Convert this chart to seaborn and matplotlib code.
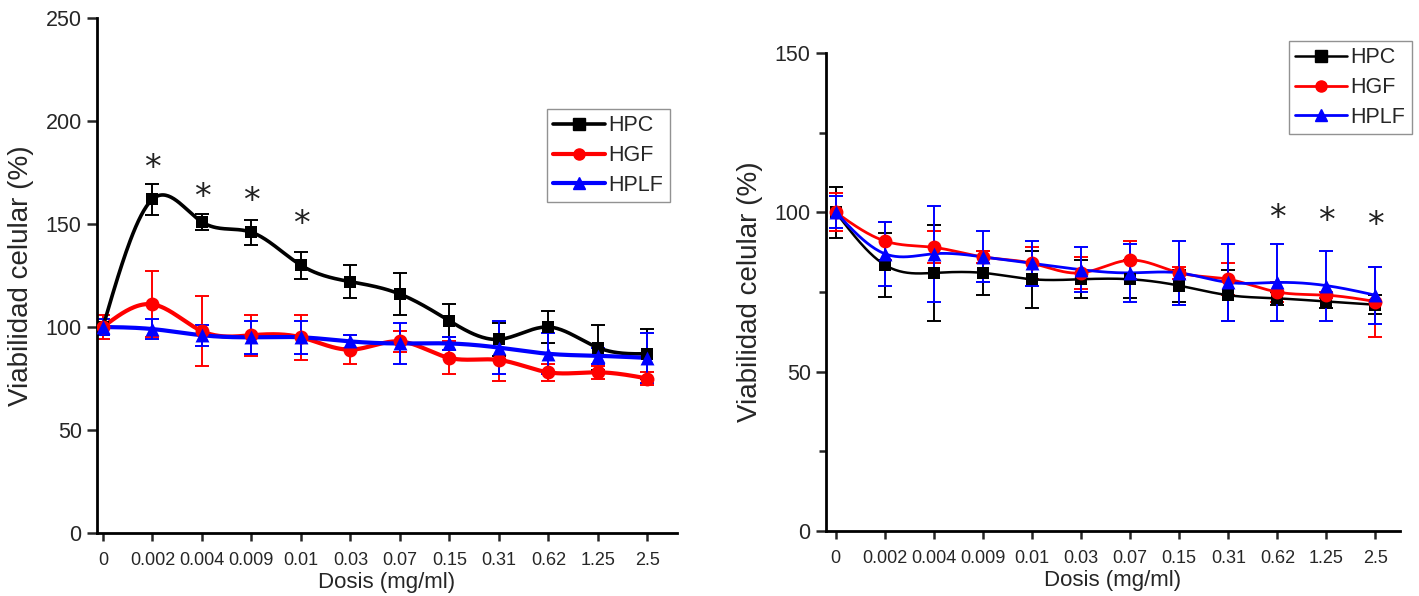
import numpy as np
import pandas as pd
import matplotlib
matplotlib.use("Agg")
import matplotlib.pyplot as plt
from matplotlib.lines import Line2D
from matplotlib.transforms import ScaledTranslation
import seaborn as sns

# ---------------- data ----------------
doses = ["0", "0.002", "0.004", "0.009", "0.01", "0.03", "0.07", "0.15", "0.31", "0.62", "1.25", "2.5"]
series_names = ["HPC", "HGF", "HPLF"]

# left panel
left_hpc = [100, 162, 151, 146, 130, 122, 116, 103, 94, 100, 90, 87]
left_hpc_err = [4, 7.5, 4, 6, 6.5, 8, 10, 8, 8, 8, 11, 12]
left_hgf = [100, 111, 98, 96, 95, 89, 93, 85, 84, 78, 78, 75]
left_hgf_err = [6, 16, 17, 10, 11, 7, 5, 8, 10, 4, 3, 3]
left_hplf = [100, 99, 96, 95, 95, 93, 92, 92, 90, 87, 86, 85]
left_hplf_err = [4, 5, 5, 8, 8, 3, 10, 3, 13, 10, 4, 12]
left_star_idx = [1, 2, 3, 4]
left_star_y = [177, 163, 161, 150]

# right panel
right_hpc = [100, 83.5, 81, 81, 79, 79, 79, 77, 74, 73, 72, 71]
right_hpc_err = [8, 10, 15, 7, 9, 6, 6, 5, 8, 2, 2, 3]
right_hgf = [100, 91, 89, 86, 84, 81, 85, 81, 79, 75, 74, 72]
right_hgf_err = [6, 6, 5, 2, 5, 5, 6, 2, 5, 3, 1, 11]
right_hplf = [100, 87, 87, 86, 84, 82, 81, 81, 78, 78, 77, 74]
right_hplf_err = [5, 10, 15, 8, 7, 7, 9, 10, 12, 12, 11, 9]
right_star_idx = [9, 10, 11]
right_star_y = [98, 97, 96]

colors = {"HPC": "#000000", "HGF": "#ff0000", "HPLF": "#0000ff"}
markers = {"HPC": "s", "HGF": "o", "HPLF": "^"}

# tick label vertical offsets (px)
left_lbl_dy = [-8, 2, -4, -4, -1, 3, 2, 5, -2, 1, 1, 0]
right_lbl_dy = [8, 0, 0, 2, 2, 0, 0, -3, 2, 3, -1, -1]


def natural_spline(x, y, n=400):
    x = np.asarray(x, float)
    y = np.asarray(y, float)
    k = len(x)
    h = np.diff(x)
    A = np.zeros((k, k))
    b = np.zeros(k)
    A[0, 0] = A[-1, -1] = 1
    for i in range(1, k - 1):
        A[i, i - 1] = h[i - 1]
        A[i, i] = 2 * (h[i - 1] + h[i])
        A[i, i + 1] = h[i]
        b[i] = 3 * ((y[i + 1] - y[i]) / h[i] - (y[i] - y[i - 1]) / h[i - 1])
    c = np.linalg.solve(A, b)
    bb = np.zeros(k - 1)
    d = np.zeros(k - 1)
    for i in range(k - 1):
        bb[i] = (y[i + 1] - y[i]) / h[i] - h[i] * (2 * c[i] + c[i + 1]) / 3
        d[i] = (c[i + 1] - c[i]) / (3 * h[i])
    xs = np.linspace(x[0], x[-1], n)
    idx = np.clip(np.searchsorted(x, xs) - 1, 0, k - 2)
    dx = xs - x[idx]
    ys = y[idx] + bb[idx] * dx + c[idx] * dx ** 2 + d[idx] * dx ** 3
    return xs, ys


sns.set_style("ticks")
plt.rcParams["font.family"] = ["Liberation Sans", "DejaVu Sans"]

fig = plt.figure(figsize=(14.19, 5.96), dpi=100)
axL = fig.add_axes([97 / 1419, 1 - 533 / 596, (677 - 97) / 1419, (533 - 18) / 596])
axR = fig.add_axes([826 / 1419, 1 - 531 / 596, (1400 - 826) / 1419, (531 - 53) / 596])

x = np.arange(len(doses))


def draw_panel(ax, data, lw, ms, stars_idx, stars_y, xlim, ylim, yticks, minor, lbl_dy, legend_bbox):
    for name in series_names:
        vals, errs = data[name]
        col = colors[name]
        xs, ys = natural_spline(x, vals)
        sns.lineplot(x=xs, y=ys, ax=ax, color=col, lw=lw[name], zorder=3, legend=False)
        ax.errorbar(x, vals, yerr=errs, fmt="none", ecolor=col, elinewidth=1.4,
                    capsize=5, capthick=1.4, zorder=2)
        sns.scatterplot(x=x, y=vals, ax=ax, color=col, marker=markers[name],
                        s=ms[name], edgecolor=col, linewidth=0, zorder=4, legend=False)
    for i, yv in zip(stars_idx, stars_y):
        ax.text(i, yv, "*", ha="center", va="center", fontsize=24, color="#222222",
                family="DejaVu Sans")
    ax.set_xlim(*xlim)
    ax.set_ylim(*ylim)
    ax.set_yticks(yticks)
    if minor is not None:
        ax.set_yticks(minor, minor=True)
    ax.set_xticks(x)
    ax.set_xticklabels(doses)
    for lbl, dy in zip(ax.get_xticklabels(), lbl_dy):
        lbl.set_transform(lbl.get_transform() + ScaledTranslation(0, -dy / 100, fig.dpi_scale_trans))
    ax.tick_params(axis="x", labelsize=13, length=6, width=1.8, pad=8, direction="out")
    ax.tick_params(axis="y", labelsize=15.5, length=7, width=1.8, pad=4, direction="out")
    ax.tick_params(axis="y", which="minor", length=5, width=1.8, direction="out")
    for s in ["top", "right"]:
        ax.spines[s].set_visible(False)
    for s in ["left", "bottom"]:
        ax.spines[s].set_linewidth(2.0)
        ax.spines[s].set_color("black")
    ax.set_xlabel("Dosis (mg/ml)", fontsize=16, labelpad=2)
    ax.set_ylabel("Viabilidad celular (%)", fontsize=20, labelpad=8)
    handles = [Line2D([0], [0], color=colors[n], lw=lw[n], marker=markers[n], markersize=8)
               for n in series_names]
    leg = ax.legend(handles, series_names, loc="upper left", bbox_to_anchor=legend_bbox,
                    bbox_transform=fig.transFigure, frameon=True, fancybox=False,
                    fontsize=15.5, handlelength=2.4, handletextpad=0.15, borderpad=0.3,
                    labelspacing=0.4, borderaxespad=0)
    leg.get_frame().set_edgecolor("#777777")
    leg.get_frame().set_linewidth(1.0)


draw_panel(axL,
           {"HPC": (left_hpc, left_hpc_err), "HGF": (left_hgf, left_hgf_err),
            "HPLF": (left_hplf, left_hplf_err)},
           {"HPC": 2.6, "HGF": 3.0, "HPLF": 3.0},
           {"HPC": 80, "HGF": 100, "HPLF": 100},
           left_star_idx, left_star_y, (-0.12, 11.6), (0, 250),
           [0, 50, 100, 150, 200, 250], None, left_lbl_dy,
           (547 / 1419, 1 - 109 / 596))

draw_panel(axR,
           {"HPC": (right_hpc, right_hpc_err), "HGF": (right_hgf, right_hgf_err),
            "HPLF": (right_hplf, right_hplf_err)},
           {"HPC": 1.8, "HGF": 2.0, "HPLF": 2.0},
           {"HPC": 80, "HGF": 100, "HPLF": 100},
           right_star_idx, right_star_y, (-0.2, 11.5), (0, 150),
           [0, 50, 100, 150], [25, 75, 125], right_lbl_dy,
           (1289 / 1419, 1 - 41 / 596))

fig.savefig("out.png", dpi=100, facecolor="white")
